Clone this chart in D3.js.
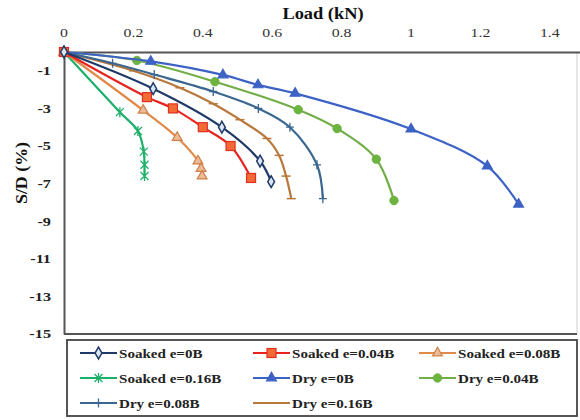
<!DOCTYPE html>
<html><head><meta charset="utf-8">
<script src="https://cdn.jsdelivr.net/npm/d3@7"></script>
<style>body{margin:0;background:#fff}svg{display:block}svg text{font-family:"Liberation Serif","DejaVu Serif",serif}</style></head>
<body><svg id="c" width="580" height="420"></svg>
<script>
// ---- data ----
const xTicks = [0, 0.2, 0.4, 0.6, 0.8, 1, 1.2, 1.4];
const xTickLabels = ["0", "0.2", "0.4", "0.6", "0.8", "1", "1.2", "1.4"];
const yTicks = [-1, -3, -5, -7, -9, -11, -13, -15];
const seriesNames = ["Soaked e=0B", "Soaked e=0.04B", "Soaked e=0.08B", "Soaked e=0.16B",
                     "Dry e=0B", "Dry e=0.04B", "Dry e=0.08B", "Dry e=0.16B"];
// [load (kN), S/D (%)]
const soaked0B   = [[0,0],[0.257,-1.95],[0.455,-4.0],[0.565,-5.8],[0.597,-6.9]];
const soaked004B = [[0,0],[0.239,-2.4],[0.314,-3.0],[0.40,-4.0],[0.48,-5.0],[0.539,-6.7]];
const soaked008B = [[0,0],[0.228,-3.1],[0.326,-4.55],[0.386,-5.8],[0.395,-6.2],[0.398,-6.6]];
const soaked016B = [[0,0],[0.161,-3.2],[0.213,-4.2],[0.23,-5.3],[0.232,-6.0],[0.232,-6.6]];
const dry0B      = [[0,0],[0.25,-0.5],[0.458,-1.22],[0.559,-1.75],[0.666,-2.2],[1.0,-4.1],[1.22,-6.07],[1.31,-8.1]];
const dry004B    = [[0,0],[0.21,-0.45],[0.435,-1.58],[0.675,-3.07],[0.787,-4.07],[0.90,-5.7],[0.951,-7.9]];
const dry008B    = [[0,0],[0.14,-0.6],[0.26,-1.2],[0.43,-2.1],[0.56,-3.0],[0.651,-4.0],[0.729,-6.0],[0.746,-7.8]];
const dry016B    = [[0,0],[0.2,-1.0],[0.334,-1.9],[0.43,-2.75],[0.507,-3.6],[0.585,-4.6],[0.62,-5.5],[0.64,-6.6],[0.655,-7.8]];
const seriesData = [soaked0B, soaked004B, soaked008B, soaked016B, dry0B, dry004B, dry008B, dry016B];

// ---- styles ----
const styles = [
  {line:"#1f3a68", marker:"diamond", fill:"#dce6f2", stroke:"#1f3a68"},
  {line:"#e8231f", marker:"square", fill:"#f26a36", stroke:"#e0301f"},
  {line:"#e08a4a", marker:"triangle", fill:"#ecbc98", stroke:"#d08048"},
  {line:"#1db06a", marker:"star", fill:"none", stroke:"#1db06a"},
  {line:"#3d62c6", marker:"triangle", fill:"#3d62c6", stroke:"#3d62c6"},
  {line:"#72ae48", marker:"circle", fill:"#6cb33f", stroke:"#6cb33f"},
  {line:"#3a6690", marker:"plus", fill:"none", stroke:"#3a6690"},
  {line:"#b9773c", marker:"dash", fill:"none", stroke:"#b9773c"}
];

const svg = d3.select("#c");
const x = d3.scaleLinear().domain([0, 1.5]).range([64, 584.5]);
const y = d3.scaleLinear().domain([0, -15]).range([52, 334]);
const FONT = '"Liberation Serif","DejaVu Serif",serif';

function txt(parent, px, py, str, o) {
  const g = parent.append("g").attr("transform", `translate(${px},${py}) rotate(${o.rot||0}) scale(${o.sx||1},1)`);
  return g.append("text").text(str)
    .attr("text-anchor", o.anchor || "start")
    .attr("dominant-baseline", "central")
    .style("font-family", FONT)
    .attr("font-size", o.size).attr("font-weight", o.weight || "normal")
    .attr("fill", o.fill || "#222");
}

// frame
svg.append("line").attr("x1", 577).attr("x2", 577).attr("y1", y(0)).attr("y2", y(-15)).attr("stroke", "#d0d0d0").attr("stroke-width", 1);
svg.append("line").attr("x1", x(0)).attr("x2", 577).attr("y1", y(-15)).attr("y2", y(-15)).attr("stroke", "#555").attr("stroke-width", 2);

// axes (top x axis, left y axis)
const xAxis = svg.append("g").attr("transform", `translate(0,${y(0)})`)
  .call(d3.axisTop(x).tickValues(xTicks).tickSize(0).tickFormat((d, i) => xTickLabels[i]));
xAxis.select(".domain").attr("stroke", "#555").attr("stroke-width", 2);
xAxis.selectAll(".tick text").remove();
xTicks.forEach((v, i) => txt(svg, x(v), 33, xTickLabels[i], {size: 13, sx: 1.22, anchor: "middle", fill: "#333"}));

const yAxis = svg.append("g").attr("transform", `translate(${x(0)},0)`)
  .call(d3.axisLeft(y).tickValues(yTicks).tickSize(0));
yAxis.select(".domain").attr("stroke", "#555").attr("stroke-width", 2);
yAxis.selectAll(".tick text").remove();
yTicks.forEach(v => txt(svg, 51, y(v), String(v), {size: 12.5, sx: 1.3, anchor: "end", weight: "bold", fill: "#222"}));

// titles
txt(svg, 323, 14, "Load (kN)", {size: 16, sx: 1.15, anchor: "middle", weight: "bold", fill: "#111"});
txt(svg, 22, 173, "S/D (%)", {size: 16, sx: 1.12, anchor: "middle", weight: "bold", fill: "#111", rot: -90});

// marker drawing
function drawMarker(g, st, cx, cy) {
  const m = st.marker;
  if (m === "diamond") {
    g.append("path").attr("d", d3.symbol(d3.symbolDiamond, 40)()).attr("transform", `translate(${cx},${cy})`)
      .attr("fill", st.fill).attr("stroke", st.stroke).attr("stroke-width", 1.5);
  } else if (m === "square") {
    g.append("rect").attr("x", cx - 4.5).attr("y", cy - 4.5).attr("width", 9).attr("height", 9)
      .attr("fill", st.fill).attr("stroke", st.stroke).attr("stroke-width", 1.2);
  } else if (m === "triangle") {
    g.append("path").attr("d", d3.symbol(d3.symbolTriangle, 42)()).attr("transform", `translate(${cx},${cy})`)
      .attr("fill", st.fill).attr("stroke", st.stroke).attr("stroke-width", 1.2);
  } else if (m === "circle") {
    g.append("circle").attr("cx", cx).attr("cy", cy).attr("r", 4.2)
      .attr("fill", st.fill).attr("stroke", st.stroke).attr("stroke-width", 1);
  } else if (m === "star") {
    const r = 4;
    g.append("path").attr("d", `M${cx-r},${cy-r}L${cx+r},${cy+r}M${cx-r},${cy+r}L${cx+r},${cy-r}M${cx},${cy-r-1}L${cx},${cy+r+1}`)
      .attr("stroke", st.stroke).attr("stroke-width", 1.3).attr("fill", "none");
  } else if (m === "plus") {
    g.append("path").attr("d", `M${cx-4},${cy}L${cx+4},${cy}M${cx},${cy-4.5}L${cx},${cy+4.5}`)
      .attr("stroke", st.stroke).attr("stroke-width", 1.3).attr("fill", "none");
  } else if (m === "dash") {
    g.append("path").attr("d", `M${cx-4.5},${cy}L${cx+4.5},${cy}`)
      .attr("stroke", st.stroke).attr("stroke-width", 1.5).attr("fill", "none");
  }
}

const line = d3.line().x(d => x(d[0])).y(d => y(d[1])).curve(d3.curveCatmullRom.alpha(0.5));
const plot = svg.append("g");
// draw dry series first, then soaked on top
const order = [7, 6, 5, 4, 3, 2, 1, 0];
order.forEach(i => {
  const st = styles[i];
  const g = plot.append("g");
  g.append("path").datum(seriesData[i]).attr("d", line)
    .attr("fill", "none").attr("stroke", st.line).attr("stroke-width", 2.2);
  seriesData[i].forEach(d => drawMarker(g, st, x(d[0]), y(d[1])));
});

// legend
svg.append("rect").attr("x", 67).attr("y", 340).attr("width", 510).attr("height", 76)
  .attr("fill", "#fff").attr("stroke", "#444").attr("stroke-width", 1.8);
const colX = [80, 253, 419];
const rowY = [353, 378, 403];
seriesNames.forEach((name, i) => {
  const cx0 = colX[i % 3], cy0 = rowY[Math.floor(i / 3)];
  const st = styles[i];
  const g = svg.append("g");
  g.append("line").attr("x1", cx0).attr("x2", cx0 + 37).attr("y1", cy0).attr("y2", cy0)
    .attr("stroke", st.line).attr("stroke-width", 2.2);
  if (st.marker !== "dash") drawMarker(g, st, cx0 + 18.5, cy0);
  txt(g, cx0 + 39, cy0 + 0.5, name, {size: 13, sx: 1.16, weight: "bold", fill: "#222"});
});
</script></body></html>
